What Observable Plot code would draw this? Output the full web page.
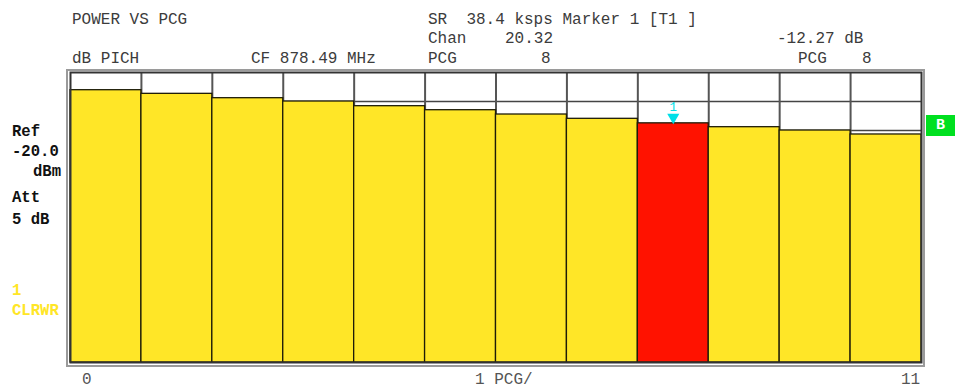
<!DOCTYPE html>
<html><head><meta charset="utf-8">
<script src="https://cdn.jsdelivr.net/npm/d3@7"></script>
<script src="https://cdn.jsdelivr.net/npm/@observablehq/plot@0.6"></script>
<style>
body{margin:0;background:#fff;width:955px;height:390px;position:relative;overflow:hidden;font-family:"Liberation Mono","DejaVu Sans Mono",monospace;}
#chart{position:absolute;left:0;top:0;}
.t{position:absolute;white-space:pre;font-size:16px;line-height:1;color:#3c3c3c;}
.b{font-weight:bold;color:#111;font-size:15.6px;}
.y{font-weight:bold;color:#ffe627;font-size:15.6px;}
.g{color:#555;}
#frame2{position:absolute;left:66px;top:69px;width:855px;height:294px;border:2px solid #9a9a9a;}
#bbox{position:absolute;left:926px;top:115px;width:29px;height:21px;background:#00e020;color:#fff;font-weight:bold;font-size:15px;line-height:21px;text-align:center;}
</style></head>
<body>
<div id="frame2"></div>
<div id="chart"></div>
<script>
// ---- data ----
const pcgs = [0, 1, 2, 3, 4, 5, 6, 7, 8, 9, 10, 11];
const powerDb = [-4.27, -5.15, -6.2, -7.0, -8.13, -9.1, -10.14, -11.18, -12.27, -13.2, -14.0, -14.96];
const markerPcg = 8;
const markerLabel = "1";
const yDomain = [-70, 0];
const gridY = [-63, -56, -49, -42, -35, -28, -21, -14, -7];
const gridX = [1, 2, 3, 4, 5, 6, 7, 8, 9, 10, 11];
const xTickLabels = ["0", "1 PCG/", "11"];
const headerRow1 = ["POWER VS PCG", "SR  38.4 ksps Marker 1 [T1 ]"];
const headerRow2 = ["Chan", "20.32", "-12.27 dB"];
const headerRow3 = ["dB PICH", "CF 878.49 MHz", "PCG", "8", "PCG", "8"];
const sideLabels = ["Ref", "-20.0", "dBm", "Att", "5 dB"];
const traceLabels = ["1", "CLRWR"];

const data = pcgs.map((p, i) => ({pcg: p, db: powerDb[i]}));
const marker = data.filter(d => d.pcg === markerPcg);

const YELLOW = "#ffe627", RED = "#ff1200", CYAN = "#00e0e8";

const chart = Plot.plot({
  width: 955, height: 390,
  marginLeft: 70, marginRight: 34, marginTop: 72, marginBottom: 28,
  x: {domain: [0, 12], axis: null},
  y: {domain: yDomain, axis: null},
  marks: [
    Plot.ruleY(gridY, {stroke: "#444", strokeWidth: 1.6}),
    Plot.ruleX(gridX, {stroke: "#555", strokeWidth: 2}),
    Plot.rectY(data, {
      x1: d => d.pcg, x2: d => d.pcg + 1,
      y1: d => yDomain[0], y2: "db",
      fill: d => d.pcg === markerPcg ? RED : YELLOW,
      stroke: "#1e1c08", strokeWidth: 1.3
    }),
    Plot.frame({stroke: "#333", strokeWidth: 2}),
    Plot.dot(marker, {x: d => d.pcg + 0.5, y: "db", symbol: "triangle", r: 4.5, fill: CYAN, stroke: null, rotate: 180, dy: -6}),
    Plot.text(marker, {x: d => d.pcg + 0.5, y: "db", text: d => markerLabel, dy: -16, fill: CYAN, fontSize: 12.5, fontFamily: "Liberation Mono"})
  ]
});
document.getElementById("chart").appendChild(chart);

function put(txt, x, baseline, cls) {
  const el = document.createElement("div");
  el.className = "t " + (cls || "");
  el.textContent = txt;
  el.style.left = x + "px";
  el.style.top = (baseline - 12) + "px";
  document.body.appendChild(el);
}
put(headerRow1[0], 72, 24);
put(headerRow1[1], 428, 24);
put(headerRow2[0], 428, 43);
put(headerRow2[1], 505, 43);
put(headerRow2[2], 777, 43);
put(headerRow3[0], 72, 63);
put(headerRow3[1], 251, 63);
put(headerRow3[2], 428, 63);
put(headerRow3[3], 541, 63);
put(headerRow3[4], 798, 63);
put(headerRow3[5], 862, 63);

put(sideLabels[0], 12, 137, "b");
put(sideLabels[1], 12, 157, "b");
put(sideLabels[2], 33, 177, "b");
put(sideLabels[3], 12, 203, "b");
put(sideLabels[4], 12, 225, "b");
put(traceLabels[0], 12, 296, "y");
put(traceLabels[1], 12, 316, "y");

put(xTickLabels[0], 82, 384, "g");
put(xTickLabels[1], 475, 384, "g");
put(xTickLabels[2], 901, 384, "g");

const bb = document.createElement("div");
bb.id = "bbox"; bb.textContent = "B";
document.body.appendChild(bb);
</script>
</body></html>
